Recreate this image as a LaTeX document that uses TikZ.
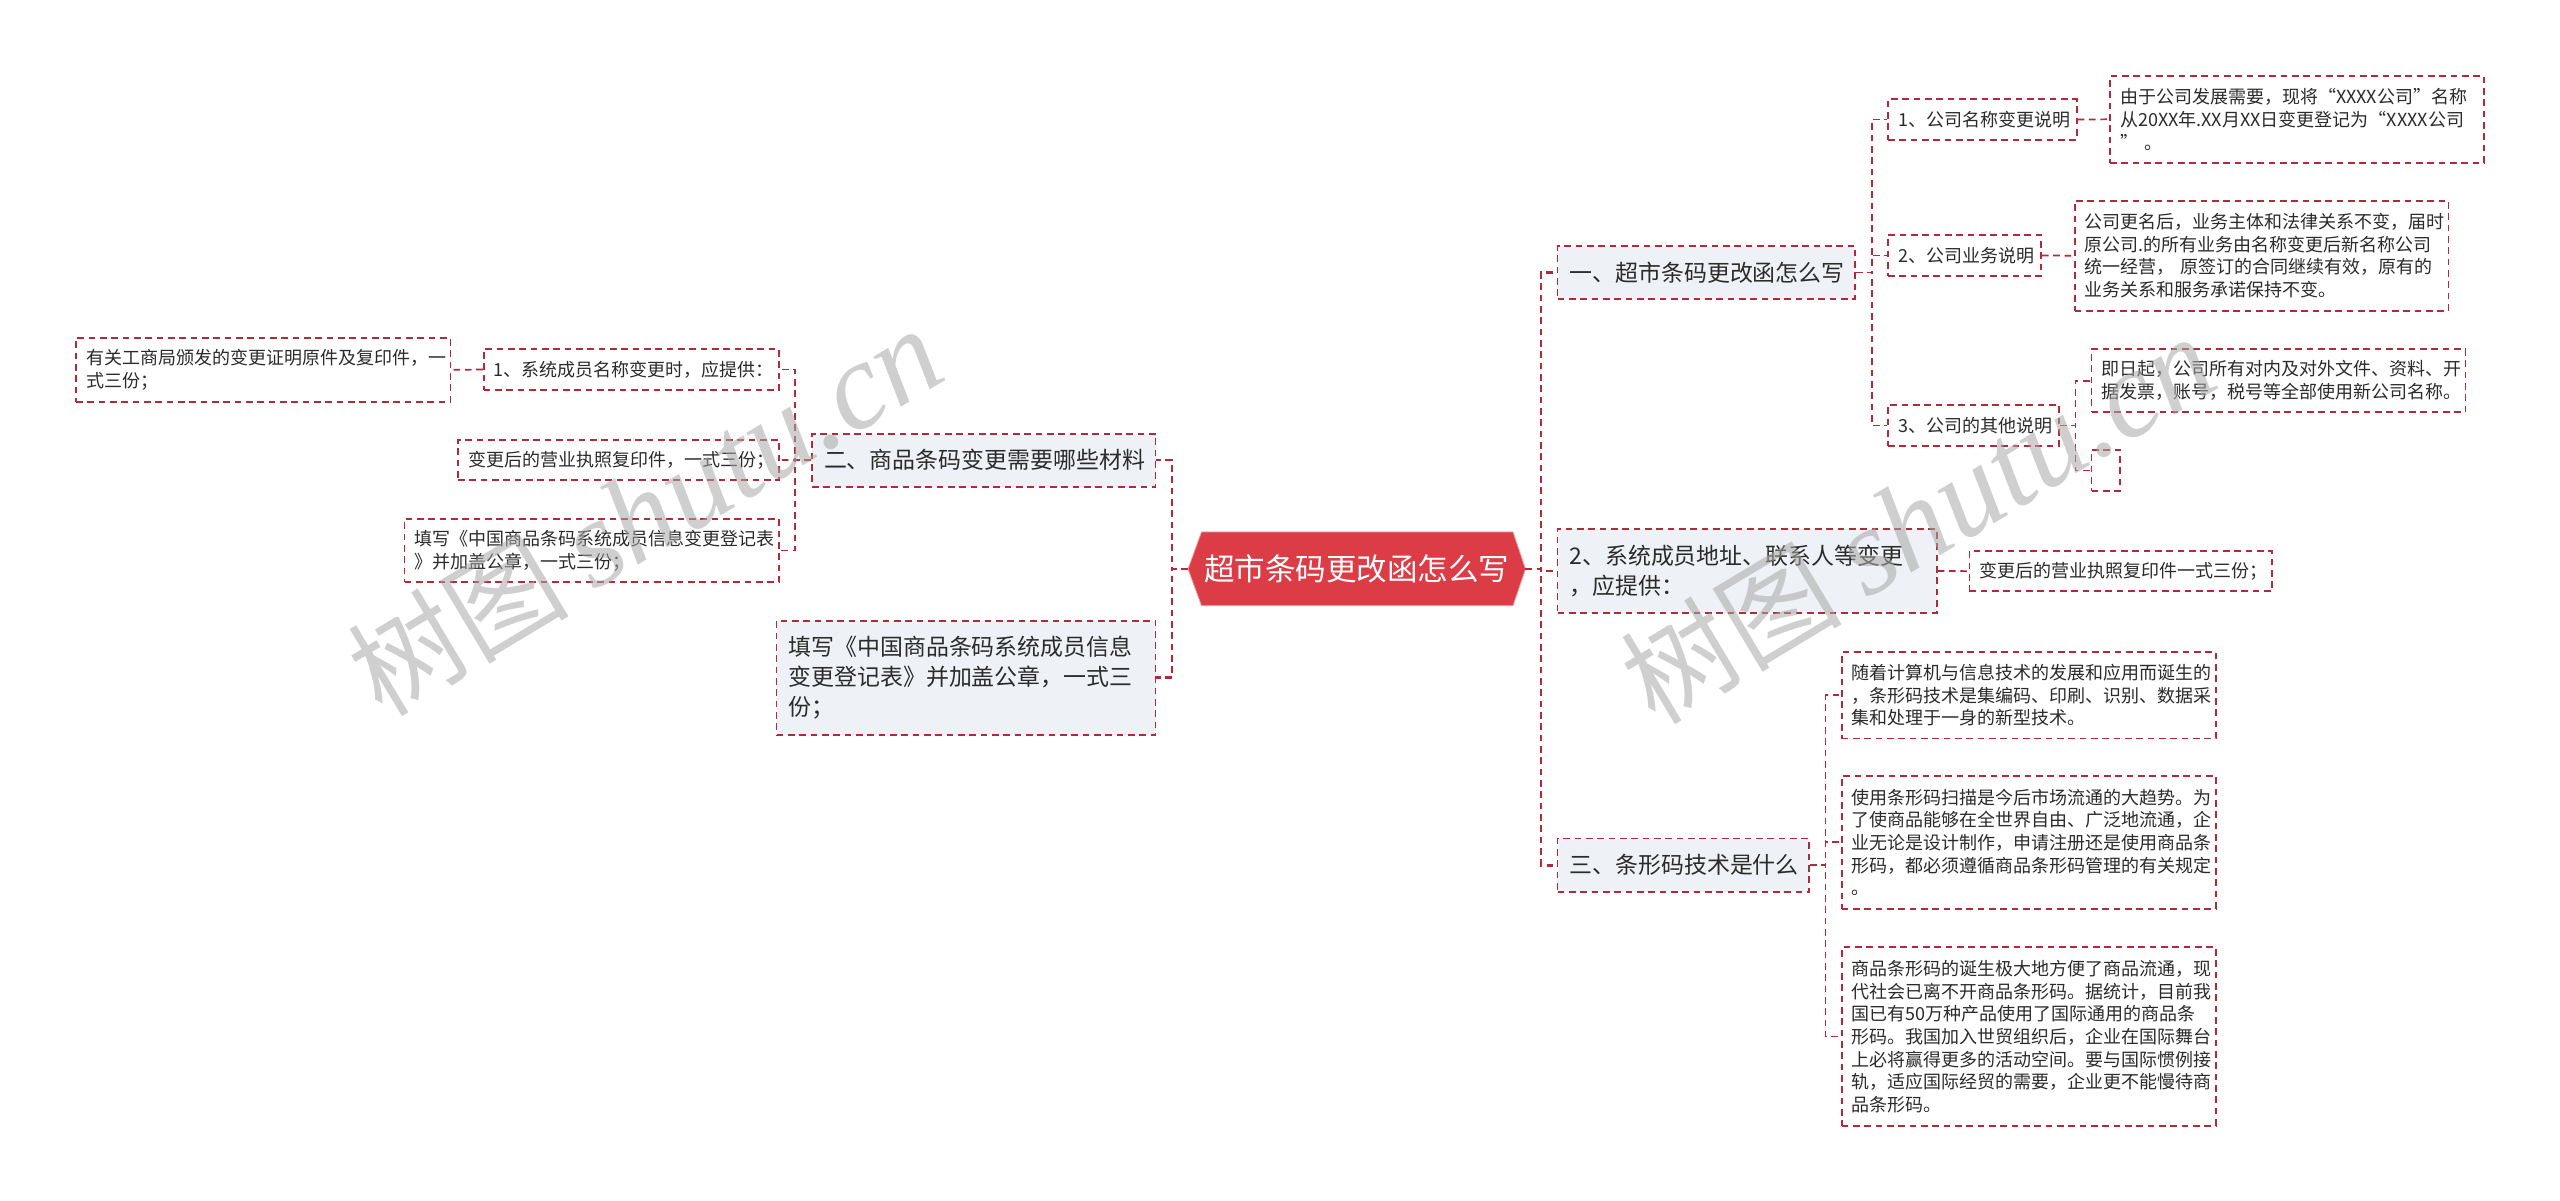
\documentclass[tikz,border=0pt]{standalone}
\usepackage{fontspec}
\setmainfont{Noto Sans CJK SC}
\newfontfamily\wmlatin[Scale=1.12]{Liberation Serif}
\definecolor{linecol}{HTML}{B02A3C}
\definecolor{rootfill}{HTML}{DC3C46}
\definecolor{rootedge}{HTML}{F0A0A4}
\definecolor{boxfill}{HTML}{EEF1F5}
\definecolor{inktext}{HTML}{2B2B2B}
\definecolor{wmgrey}{HTML}{A8A8A8}
\newcommand{\mmbox}[8][10]{\node[#2, inner xsep={#1*0.75pt}, minimum width={(#5-#3)*0.75pt}, minimum height={(#6-#4)*0.75pt}, text width={(#5-#3-2*#1)*0.75pt}] (#7) at ({(#3+#5)/2},{(#4+#6)/2}) {#8};}
\tikzset{
  smallbox/.style={draw=linecol, line width=1.3pt, dash pattern=on 5pt off 3.5pt, inner ysep=0pt, align=left, text=inktext, font=\fontsize{13.5}{17}\selectfont},
  bigbox/.style={smallbox, fill=boxfill, font=\fontsize{17.2}{22.5}\selectfont},
  rootbox/.style={inner sep=0pt, text=white, align=center, font=\fontsize{22.9}{30}\selectfont},
  conn/.style={draw=linecol, line width=1.3pt, dash pattern=on 5pt off 3.5pt},
  mainconn/.style={draw=linecol, line width=1.9pt, dash pattern=on 5pt off 3.5pt},
  watermark/.style={text=wmgrey, opacity=0.55, rotate=31, inner sep=0pt, font=\fontsize{83}{90}\selectfont}
}
\begin{document}
\begin{tikzpicture}[x=0.75pt,y=-0.75pt]
\useasboundingbox (0,0) rectangle (2560,1201);
\fill[white] (0,0) rectangle (2560,1201);

% bus coordinates
\coordinate (busL) at (1172,0);
\coordinate (busR) at (1541,0);
\coordinate (busA) at (795,0);
\coordinate (busB) at (1872,0);
\coordinate (busC) at (2075.4,0);
\coordinate (busD) at (1825.5,0);

% root shape
\filldraw[fill=rootfill, draw=rootedge, line width=0.6pt] (1188,569) -- (1201.5,532) -- (1513,532) -- (1525.5,569) -- (1513,605.7) -- (1201.5,605.7) -- cycle;
\node[rootbox, minimum width=252.75pt, minimum height=55pt] (root) at (1356.7,569) {超市条码更改函怎么写};

% left side
\mmbox[12]{bigbox}{812}{433.7}{1155.6}{486.7}{n2}{二、商品条码变更需要哪些材料}
\mmbox[12]{bigbox}{776.5}{620.7}{1155.6}{734.7}{n2b}{填写《中国商品条码系统成员信息\\变更登记表》并加盖公章，一式三\\份；}
\mmbox{smallbox}{483.7}{349}{779}{390}{a1}{1、系统成员名称变更时，应提供：}
\mmbox{smallbox}{76}{338}{450.5}{401.7}{a0}{有关工商局颁发的变更证明原件及复印件，一\\式三份；}
\mmbox{smallbox}{458}{439.7}{779}{480.3}{a2}{变更后的营业执照复印件，一式三份；}
\mmbox{smallbox}{404.6}{518.7}{779}{582.3}{a3}{填写《中国商品条码系统成员信息变更登记表\\》并加盖公章，一式三份；}

% right side
\mmbox[12]{bigbox}{1557.5}{246}{1855}{299}{n1}{一、超市条码更改函怎么写}
\mmbox[12]{bigbox}{1557.5}{529}{1936.7}{612.9}{n3}{2、系统成员地址、联系人等变更\\，应提供：}
\mmbox[12]{bigbox}{1557.5}{838.6}{1809}{892}{n4}{三、条形码技术是什么}
\mmbox{smallbox}{1888}{99.3}{2076.7}{139.7}{b1}{1、公司名称变更说明}
\mmbox{smallbox}{2110}{76}{2484}{162.7}{b1t}{由于公司发展需要，现将“XXXX公司”名称\\从20XX年.XX月XX日变更登记为“XXXX公司\\”\,\,。}
\mmbox{smallbox}{1888}{235}{2041}{276}{b2}{2、公司业务说明}
\mmbox{smallbox}{2074.7}{200.7}{2448.6}{310.7}{b2t}{公司更名后，业务主体和法律关系不变，届时\\原公司.的所有业务由名称变更后新名称公司\\统一经营， 原签订的合同继续有效，原有的\\业务关系和服务承诺保持不变。}
\mmbox{smallbox}{1888}{405}{2059}{446}{b3}{3、公司的其他说明}
\mmbox{smallbox}{2091.6}{349}{2465.5}{412.3}{b3t}{即日起，公司所有对内及对外文件、资料、开\\据发票，账号，税号等全部使用新公司名称。}
\mmbox[2]{smallbox}{2091.6}{450}{2120}{491}{b3e}{}
\mmbox{smallbox}{1969.4}{551}{2272}{591.3}{c1}{变更后的营业执照复印件一式三份；}
\mmbox{smallbox}{1841.8}{651.9}{2215.8}{738.6}{d1}{随着计算机与信息技术的发展和应用而诞生的\\，条形码技术是集编码、印刷、识别、数据采\\集和处理于一身的新型技术。}
\mmbox{smallbox}{1841.8}{776}{2215.8}{908.7}{d2}{使用条形码扫描是今后市场流通的大趋势。为\\了使商品能够在全世界自由、广泛地流通，企\\业无论是设计制作，申请注册还是使用商品条\\形码，都必须遵循商品条形码管理的有关规定\\。}
\mmbox{smallbox}{1841.8}{947.3}{2215.8}{1125.7}{d3}{商品条形码的诞生极大地方便了商品流通，现\\代社会已离不开商品条形码。据统计，目前我\\国已有50万种产品使用了国际通用的商品条\\形码。我国加入世贸组织后，企业在国际舞台\\上必将赢得更多的活动空间。要与国际惯例接\\轨，适应国际经贸的需要，企业更不能慢待商\\品条形码。}

% connectors from root
\draw[mainconn] (root.west) -- (root.west -| busL) |- (n2.east);
\draw[mainconn] (root.west) -- (root.west -| busL) |- (n2b.east);
\draw[mainconn] (root.east) -- (root.east -| busR) |- (n1.west);
\draw[mainconn] (root.east) -- (root.east -| busR) |- (n3.west);
\draw[mainconn] (root.east) -- (root.east -| busR) |- (n4.west);
% left subtree
\draw[conn] (n2.west) -- (n2.west -| busA) |- (a1.east);
\draw[conn] (n2.west) -- (a2.east);
\draw[conn] (n2.west) -- (n2.west -| busA) |- (a3.east);
\draw[conn] (a1.west) -- (a0.east);
% right subtree
\draw[conn] (n1.east) -- (n1.east -| busB) |- (b1.west);
\draw[conn] (n1.east) -- (n1.east -| busB) |- (b2.west);
\draw[conn] (n1.east) -- (n1.east -| busB) |- (b3.west);
\draw[conn] (b1.east) -- (b1t.west);
\draw[conn] (b2.east) -- (b2t.west);
\draw[conn] (b3.east) -- (b3.east -| busC) |- (b3t.west);
\draw[conn] (b3.east) -- (b3.east -| busC) |- (b3e.west);
\draw[conn] (n3.east) -- (c1.west);
\draw[conn] (n4.east) -- (n4.east -| busD) |- (d1.west);
\draw[conn] (n4.east) -- (n4.east -| busD) |- (d2.west);
\draw[conn] (n4.east) -- (n4.east -| busD) |- (d3.west);

% watermarks
\node[watermark] (w1) at (645,512) {树图 {\wmlatin\itshape shutu.cn}};
\node[watermark] (w2) at (1918,520) {树图 {\wmlatin\itshape shutu.cn}};
\end{tikzpicture}
\end{document}
